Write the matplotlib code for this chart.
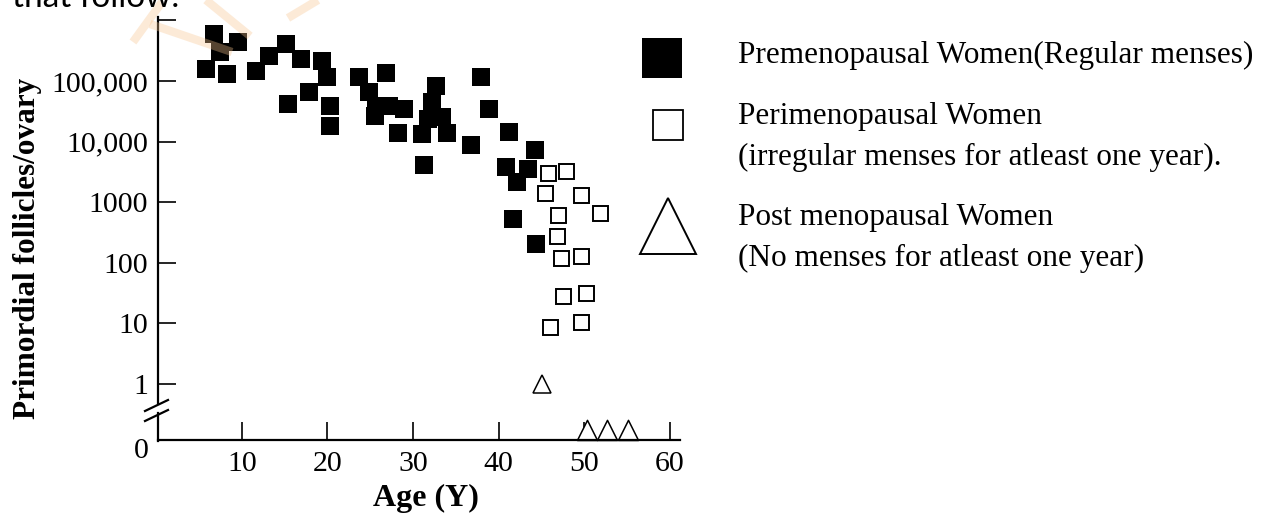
import numpy as np
import matplotlib
matplotlib.use("Agg")
import matplotlib.pyplot as plt
import matplotlib.transforms as mtransforms
from matplotlib.lines import Line2D
from matplotlib.path import Path

# --- data ---
pre_age = [6.8, 9.5, 7.4, 5.8, 8.3, 11.7, 13.2, 15.1, 16.9, 19.4,
           19.9, 17.9, 15.4, 20.3, 20.3, 23.7, 26.9, 24.9, 25.7, 25.5,
           27.2, 29.0, 28.2, 31.1, 34.0, 32.7, 32.2, 33.4, 31.7, 31.3,
           36.8, 38.0, 38.9, 41.2, 44.2, 40.9, 43.4, 42.2, 41.7, 44.4]
pre_fol = [603000, 437000, 302000, 158000, 132000, 148000, 257000, 407000, 229000, 214000,
           117000, 66000, 41700, 38900, 18200, 117000, 135000, 66000, 38900, 26300,
           38900, 34700, 13800, 13500, 13800, 83000, 44700, 25700, 23400, 4070,
           8700, 117000, 34700, 14500, 7240, 3800, 3550, 2140, 525, 204]

peri_age = [45.8, 47.9, 45.4, 49.6, 51.8, 47.0, 46.8, 47.3, 49.6, 47.5, 50.2, 46.0, 49.6]
peri_fol = [3020, 3240, 1410, 1320, 676, 617, 275, 120, 129, 28, 32, 8.7, 10.5]

post_age = [45.1, 50.3, 52.7, 55.1]
post_fol = [1, 0, 0, 0]

yticks = [0, 1, 10, 100, 1000, 10000, 100000, 1000000]
ytick_labels = ["0", "1", "10", "100", "1000", "10,000", "100,000", ""]
xticks = [10, 20, 30, 40, 50, 60]

legend_labels = ["Premenopausal Women(Regular menses)",
                 "Perimenopausal Women\n(irregular menses for atleast one year).",
                 "Post menopausal Women\n(No menses for atleast one year)"]

W, H = 1262, 519
def fx(x):
    return x / W
def fy(y):
    return 1 - y / H

# log axis with a broken segment below 1 so that 0 sits on the x axis
K = 0.924
def fwd(v):
    v = np.asarray(v, dtype=float)
    return np.where(v >= 1, np.log10(np.maximum(v, 1e-300)), K * (v - 1))
def inv(y):
    y = np.asarray(y, dtype=float)
    return np.where(y >= 0, 10.0 ** y, 1 + y / K)

plt.rcParams['font.family'] = ['Liberation Serif', 'DejaVu Serif']

fig = plt.figure(figsize=(W / 100, H / 100), dpi=100)
ax = fig.add_axes([fx(158), fy(440), (680 - 158) / W, (440 - 18) / H])
ax.set_yscale('function', functions=(fwd, inv))
ax.set_xlim(0.2, 61.2)
ax.set_ylim(0, 10 ** 6.04)

pre_age = np.array(pre_age); pre_fol = np.array(pre_fol, float)
peri_age = np.array(peri_age); peri_fol = np.array(peri_fol, float)
post_age = np.array(post_age); post_fol = np.array(post_fol, float)

ax.plot(pre_age, pre_fol, 's', ms=13, mfc='black', mec='black', mew=0, ls='none')
ax.plot(peri_age, peri_fol, 's', ms=10.8, mfc='white', mec='black', mew=1.4, ls='none')

# triangles: positive values centred, zero values resting on the axis
tri_base = Path([(-0.5, 0), (0.5, 0), (0, 1), (-0.5, 0)],
                [Path.MOVETO, Path.LINETO, Path.LINETO, Path.CLOSEPOLY])
pos = post_fol > 0
ax.plot(post_age[pos], post_fol[pos], '^', ms=13.5, mfc='white', mec='black', mew=1.1,
        ls='none', clip_on=False)
ax.plot(post_age[~pos], post_fol[~pos], marker=tri_base, ms=29, mfc='white', mec='black',
        mew=1.1, ls='none', clip_on=False)

# axes styling
for s in ['top', 'right', 'left']:
    ax.spines[s].set_visible(False)
ax.spines['bottom'].set_linewidth(1.6)

ax.set_xticks(xticks)
ax.set_xticklabels([str(t) for t in xticks])
ax.set_yticks(yticks)
ax.set_yticklabels(ytick_labels)
ax.yaxis.set_minor_locator(matplotlib.ticker.NullLocator())
ax.tick_params(axis='both', direction='in', length=13, width=1.2, labelsize=21.5, pad=7)
ax.tick_params(axis='x', pad=8)

# the 0 label sits a little below the axis and has no tick
t0 = ax.yaxis.get_major_ticks()[0]
t0.tick1line.set_visible(False)
t0.label1.set_transform(t0.label1.get_transform() +
                        mtransforms.ScaledTranslation(0, -0.08, fig.dpi_scale_trans))

# broken left spine
spine_kw = dict(color='black', lw=1.6, transform=fig.transFigure, clip_on=False)
fig.add_artist(Line2D([fx(158), fx(158)], [fy(17), fy(403)], **spine_kw))
fig.add_artist(Line2D([fx(158), fx(158)], [fy(413), fy(440.5)], **spine_kw))
fig.add_artist(Line2D([fx(145), fx(168)], [fy(411), fy(400)], **spine_kw))
fig.add_artist(Line2D([fx(145), fx(168)], [fy(421), fy(410)], **spine_kw))

fig.text(fx(426), fy(498), "Age (Y)", fontsize=23, fontweight='bold', ha='center', va='center')
fig.text(fx(28), fy(248), "Primordial follicles/ovary", rotation=90, fontsize=22.5,
         fontweight='bold', ha='center', va='center')

# legend drawn at the right
mk = dict(transform=fig.transFigure, ls='none', clip_on=False)
fig.add_artist(Line2D([fx(662)], [fy(58)], marker='s', ms=29, mfc='black', mec='black', mew=0, **mk))
fig.add_artist(Line2D([fx(668)], [fy(125)], marker='s', ms=21, mfc='white', mec='black', mew=1.3, **mk))
fig.add_artist(Line2D([fx(668)], [fy(226)], marker='^', ms=40, mfc='white', mec='black', mew=1.4, **mk))
fig.text(fx(738), fy(55), legend_labels[0], fontsize=22.5, va='center', ha='left')
fig.text(fx(738), fy(137), legend_labels[1], fontsize=22.5, va='center', ha='left',
         linespacing=1.55)
fig.text(fx(738), fy(238), legend_labels[2], fontsize=22.5, va='center', ha='left',
         linespacing=1.55)

# cropped line of text from the page and faint watermark strokes
fig.text(fx(12), fy(7), "that follow.", fontsize=24, family='Lato', va='baseline', ha='left')
wm = dict(color='#f7c48f', alpha=0.35, lw=6, transform=fig.transFigure, solid_capstyle='butt')
fig.add_artist(Line2D([fx(133), fx(162)], [fy(42), fy(2)], **wm))
fig.add_artist(Line2D([fx(150), fx(232)], [fy(24), fy(52)], **wm))
fig.add_artist(Line2D([fx(206), fx(250)], [fy(0), fy(36)], **wm))
fig.add_artist(Line2D([fx(288), fx(318)], [fy(18), fy(0)], **wm))

fig.savefig("out.png", dpi=100)
